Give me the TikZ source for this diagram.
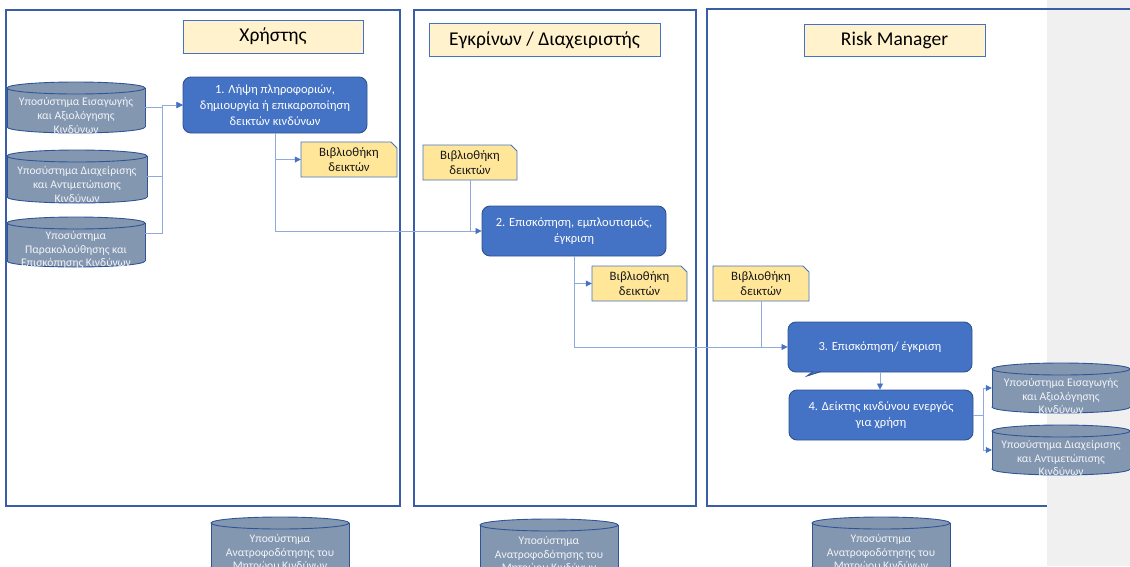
\documentclass[tikz,border=0pt]{standalone}
\usepackage{fontspec}
\setmainfont{Carlito}
\usetikzlibrary{arrows.meta,calc}
\definecolor{procfill}{HTML}{4472C4}
\definecolor{procdraw}{HTML}{2F528F}
\definecolor{lanecol}{HTML}{3A5DA8}
\definecolor{titlefill}{HTML}{FFF2CC}
\definecolor{docfill}{HTML}{FFE699}
\definecolor{cylfill}{HTML}{8497B0}
\definecolor{cyldraw}{HTML}{2F5597}
\definecolor{conncol}{HTML}{8FAADC}
\definecolor{arrowcol}{HTML}{4472C4}
\definecolor{greystrip}{HTML}{F0F0F0}
\definecolor{cyltxt}{HTML}{F2F4F9}
\newcommand\mycyl[4]{%
 \pgfmathsetmacro\cylT{#2-#4/2+6}%
 \pgfmathsetmacro\cylB{#2+#4/2-6}%
 \pgfmathsetmacro\cylL{#1-#3/2}%
 \pgfmathsetmacro\cylR{#1+#3/2}%
 \pgfmathsetmacro\cylRx{#3/2}%
 \fill[cylfill] (#1,\cylB) ellipse [x radius=\cylRx pt, y radius=6pt];
 \draw[cyldraw,line width=0.9pt] (#1,\cylB) ellipse [x radius=\cylRx pt, y radius=6pt];
 \fill[cylfill] (\cylL,\cylT) rectangle (\cylR,\cylB);
 \draw[cyldraw,line width=0.9pt] (\cylL,\cylT) -- (\cylL,\cylB) (\cylR,\cylT) -- (\cylR,\cylB);
 \filldraw[fill=cylfill,draw=cyldraw,line width=0.9pt] (#1,\cylT) ellipse [x radius=\cylRx pt, y radius=6pt];
}
\newcommand\mydoc[4]{%
 \filldraw[docshape] (#1,#2) -- ({#3-6},#2) -- (#3,{#2+6}) -- (#3,#4) -- (#1,#4) -- cycle;
}
\begin{document}
\begin{tikzpicture}[x=1pt,y=-1pt,
 titlebox/.style={draw=procfill, line width=0.9pt, fill=titlefill, inner sep=0pt, font=\fontsize{19.5}{23}\selectfont, text=black},
 procbox/.style={draw=procdraw, line width=0.9pt, fill=procfill, rounded corners=8pt, inner sep=0pt, text=white, align=center, font=\fontsize{12.5}{16}\selectfont},
 docbox/.style={inner sep=0pt, align=center, font=\fontsize{12.8}{15.5}\selectfont, text=black!90},
 cylbox/.style={inner sep=0pt},
 cyltext/.style={align=center, text=cyltxt, font=\fontsize{11.6}{13.6}\selectfont, yshift=-8pt, inner sep=0pt},
 conn/.style={draw=conncol, line width=0.8pt, -{Triangle[length=6pt,width=6pt,color=arrowcol]}},
 connplain/.style={draw=conncol, line width=0.8pt},
 lane/.style={draw=lanecol, line width=1.1pt},
 docshape/.style={draw=procfill, line width=0.9pt, fill=docfill},
]
\useasboundingbox (0,0) rectangle (1130,566);
% grey strip
\fill[greystrip] (1047,0) rectangle (1130,566);
% lanes
\draw[lane] (6,10) rectangle (400,506);
\draw[lane] (414,10) rectangle (696,506);
\draw[lane] (1130,9) -- (707,9) -- (707,506) -- (1047,506);
% cylinder shapes
\mycyl{76}{107.5}{138}{51}
\mycyl{77}{176.5}{140}{53}
\mycyl{76}{242}{138}{50}
\mycyl{1061}{388}{138}{50}
\mycyl{1061}{450}{138}{50}
\mycyl{280}{545}{138}{56}
\mycyl{549}{547}{138}{56}
\mycyl{881}{545}{138}{56}
% document shapes
\mydoc{301}{142}{397}{177}
\mydoc{423}{145}{517}{180}
\mydoc{592}{266}{687}{301}
\mydoc{713}{266}{809}{301}
% titles
\node[titlebox, minimum width=180, minimum height=33] (t1) at (273,36.5) {Χρήστης};
\node[titlebox, minimum width=231, minimum height=33] (t2) at (544.5,40) {Εγκρίνων / Διαχειριστής};
\node[titlebox, minimum width=181, minimum height=32] (t3) at (894.5,40) {Risk Manager};
% process boxes
\node[procbox, minimum width=184, minimum height=56] (p1) at (275,105) {1. Λήψη πληροφοριών,\\δημιουργία ή επικαροποίηση\\δεικτών κινδύνων};
\node[procbox, minimum width=184, minimum height=50] (p2) at (574,231) {2. Επισκόπηση, εμπλουτισμός,\\έγκριση};
\node[procbox, minimum width=184, minimum height=50] (p3) at (880,347) {3. Επισκόπηση/ έγκριση};
\filldraw[fill=procfill, draw=procdraw, line width=0.9pt] (813,371.5) -- (807,376) -- (821,371.5);
\node[procbox, minimum width=184, minimum height=50] (p4) at (881,415) {4. Δείκτης κινδύνου ενεργός\\για χρήση};
% documents
\node[docbox, minimum width=96, minimum height=35] (dA) at (349,159.5) {Βιβλιοθήκη\\δεικτών};
\node[docbox, minimum width=94, minimum height=35] (dB) at (470,162.5) {Βιβλιοθήκη\\δεικτών};
\node[docbox, minimum width=95, minimum height=35] (dC) at (639.5,283.5) {Βιβλιοθήκη\\δεικτών};
\node[docbox, minimum width=96, minimum height=35] (dD) at (761,283.5) {Βιβλιοθήκη\\δεικτών};
% cylinders (nodes)
\node[cylbox, minimum width=138, minimum height=51, label={[cyltext]center:{Υποσύστημα Εισαγωγής\\και Αξιολόγησης\\Κινδύνων}}] (c1) at (76,107.5) {};
\node[cylbox, minimum width=140, minimum height=53, label={[cyltext]center:{Υποσύστημα Διαχείρισης\\και Αντιμετώπισης\\Κινδύνων}}] (c2) at (77,176.5) {};
\node[cylbox, minimum width=138, minimum height=50, label={[cyltext]center:{Υποσύστημα\\Παρακολούθησης και\\Επισκόπησης Κινδύνων}}] (c3) at (76,242) {};
\node[cylbox, minimum width=138, minimum height=50, label={[cyltext]center:{Υποσύστημα Εισαγωγής\\και Αξιολόγησης\\Κινδύνων}}] (r1) at (1061,388) {};
\node[cylbox, minimum width=138, minimum height=50, label={[cyltext]center:{Υποσύστημα Διαχείρισης\\και Αντιμετώπισης\\Κινδύνων}}] (r2) at (1061,450) {};
\node[cylbox, minimum width=138, minimum height=56, label={[cyltext]center:{Υποσύστημα\\Ανατροφοδότησης του\\Μητρώου Κινδύνων}}] (b1) at (280,545) {};
\node[cylbox, minimum width=138, minimum height=56, label={[cyltext]center:{Υποσύστημα\\Ανατροφοδότησης του\\Μητρώου Κινδύνων}}] (b2) at (549,547) {};
\node[cylbox, minimum width=138, minimum height=56, label={[cyltext]center:{Υποσύστημα\\Ανατροφοδότησης του\\Μητρώου Κινδύνων}}] (b3) at (881,545) {};
% connectors
\draw[conn] (c1.east) -| ($(p1.west)+(-20,0)$) -- (p1.west);
\draw[conn] (c2.east) -| ($(p1.west)+(-20,0)$) -- (p1.west);
\draw[conn] ([yshift=9pt]c3.east) -| ($(p1.west)+(-20,0)$) -- (p1.west);
\draw[conn] (p1.south) |- (p2.west);
\draw[conn] (p1.south |- dA.west) -- (dA.west);
\draw[connplain] (dB.south) -- (dB.south |- p2.west);
\draw[conn] (p2.south) |- (p3.west);
\draw[conn] (p2.south |- dC.west) -- (dC.west);
\draw[connplain] (dD.south) -- (dD.south |- p3.west);
\draw[conn] (p3.south) -- (p3.south |- p4.north);
\draw[conn] (p4.east) -- ++(10,0) |- (r1.west);
\draw[conn] (p4.east) -- ++(10,0) |- (r2.west);
\end{tikzpicture}
\end{document}
